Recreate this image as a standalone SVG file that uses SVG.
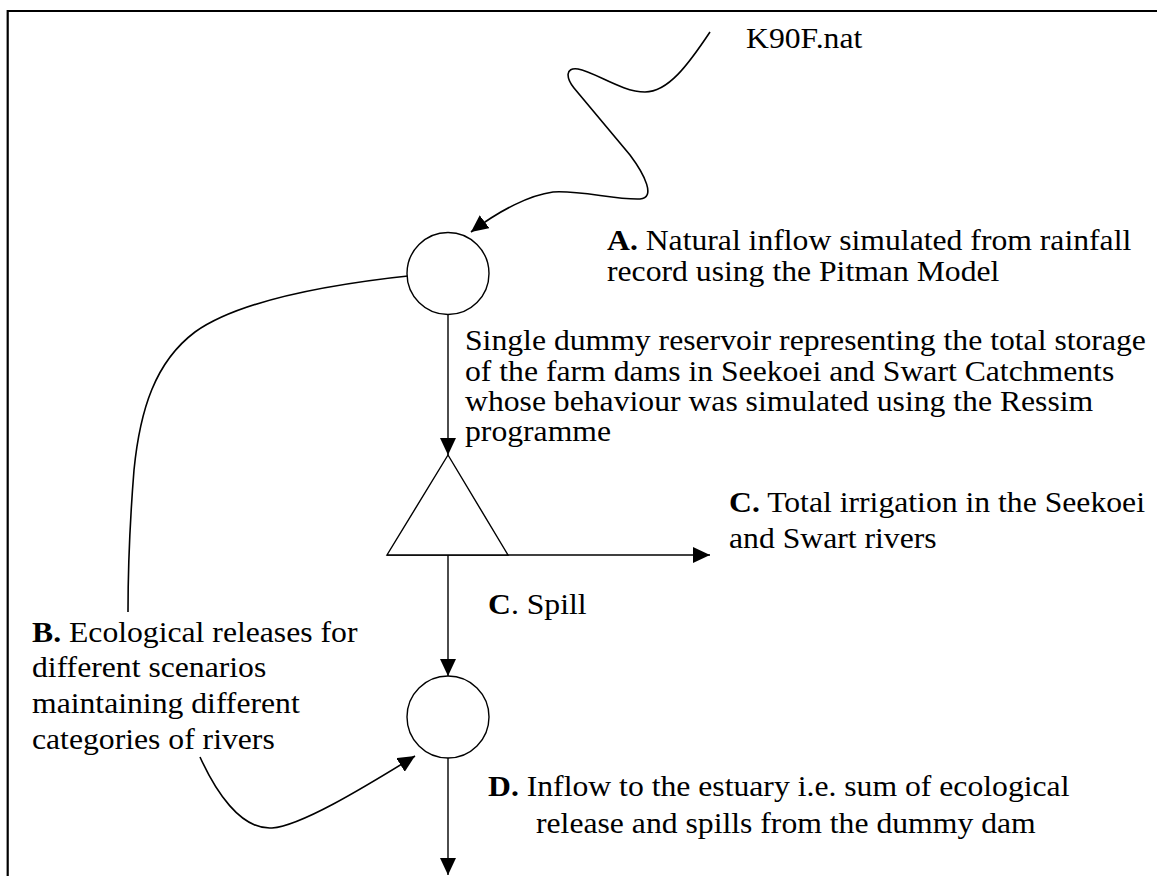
<svg xmlns="http://www.w3.org/2000/svg" width="1157" height="876" viewBox="0 0 1157 876">
<style>
.bd{stroke:#000;stroke-width:2.2;fill:none}
.sh{stroke:#000;stroke-width:1.4;fill:#fff}
.ln{stroke:#000;stroke-width:1.4;fill:none}
.cv{stroke:#000;stroke-width:1.6;fill:none}
.b{font-weight:bold}
</style>
<defs>
<marker id="ah" markerUnits="userSpaceOnUse" markerWidth="18" markerHeight="16" refX="17" refY="8" orient="auto">
<path d="M0,0 L17,8 L0,16 z" fill="#000"/>
</marker>
</defs>
<rect width="1157" height="876" fill="#fff"/>
<g id="frame">
<path class="bd" d="M7.7,876 L7.7,11 L1157,11"/>
</g>
<g id="connectors">
<path class="cv" marker-end="url(#ah)" d="M710,32 C688,65 668,92 645,92 C622,92 595,72 578,69 C565,67 566,78 574,88 L630,155 C645,175 656,198 640,199 C615,200 580,190 553,192 C530,195 500,210 471,232"/>
<path class="cv" d="M417,275 C330,284 240,300 195,332 C155,362 140,410 134,470 C130,520 128,570 128,612"/>
<path class="ln" marker-end="url(#ah)" d="M448,314 L448,455"/>
<path class="ln" marker-end="url(#ah)" d="M387,555 L710,555"/>
<path class="ln" marker-end="url(#ah)" d="M448,555 L448,676"/>
<path class="ln" marker-end="url(#ah)" d="M448,758 L448,875"/>
<path class="cv" marker-end="url(#ah)" d="M200,757 C215,790 240,830 272,828 C300,826 360,790 415,756"/>
</g>
<g id="reservoir-1">
<circle class="sh" cx="448" cy="273.5" r="41"/>
</g>
<g id="dummy-dam">
<path class="sh" d="M448,455 L387,555 L508,555 Z"/>
</g>
<g id="junction">
<circle class="sh" cx="448" cy="717" r="41"/>
</g>
<g id="label-k90f" font-family="Liberation Serif" font-size="29" fill="#000">
<text transform="translate(746,48) scale(1.093,1)">K90F.nat</text>
</g>
<g id="label-a" font-family="Liberation Serif" font-size="29" fill="#000">
<text transform="translate(607,250) scale(1.093,1)"><tspan class="b">A.</tspan> Natural inflow simulated from rainfall</text>
<text transform="translate(607,281) scale(1.093,1)">record using the Pitman Model</text>
</g>
<g id="label-reservoir" font-family="Liberation Serif" font-size="29" fill="#000">
<text transform="translate(465,350) scale(1.093,1)">Single dummy reservoir representing the total storage</text>
<text transform="translate(465,381) scale(1.093,1)">of the farm dams in Seekoei and Swart Catchments</text>
<text transform="translate(465,411) scale(1.093,1)">whose behaviour was simulated using the Ressim</text>
<text transform="translate(465,441) scale(1.093,1)">programme</text>
</g>
<g id="label-c-irrigation" font-family="Liberation Serif" font-size="29" fill="#000">
<text transform="translate(729,512) scale(1.093,1)"><tspan class="b">C.</tspan> Total irrigation in the Seekoei</text>
<text transform="translate(729,548) scale(1.093,1)">and Swart rivers</text>
</g>
<g id="label-c-spill" font-family="Liberation Serif" font-size="29" fill="#000">
<text transform="translate(488,614) scale(1.093,1)"><tspan class="b">C</tspan>. Spill</text>
</g>
<g id="label-b" font-family="Liberation Serif" font-size="29" fill="#000">
<text transform="translate(32,642) scale(1.093,1)"><tspan class="b">B.</tspan> Ecological releases for</text>
<text transform="translate(32,677) scale(1.093,1)">different scenarios</text>
<text transform="translate(32,713) scale(1.093,1)">maintaining different</text>
<text transform="translate(32,749) scale(1.093,1)">categories of rivers</text>
</g>
<g id="label-d" font-family="Liberation Serif" font-size="29" fill="#000">
<text transform="translate(488,796) scale(1.093,1)"><tspan class="b">D.</tspan> Inflow to the estuary i.e. sum of ecological</text>
<text transform="translate(536,833) scale(1.093,1)">release and spills from the dummy dam</text>
</g>
</svg>
